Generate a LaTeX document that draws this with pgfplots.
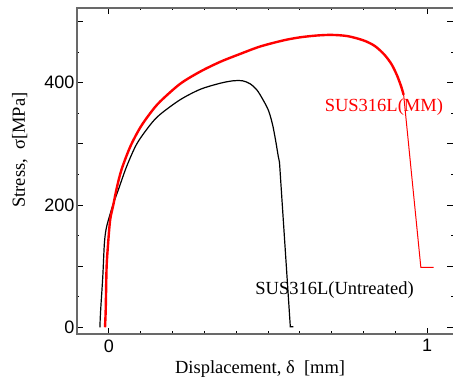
\documentclass[border=0pt]{standalone}
\usepackage{fontspec}
\setmainfont{Liberation Serif}
\setsansfont{Liberation Sans}
\usepackage{pgfplots}
\pgfplotsset{compat=1.18}
\definecolor{spine}{RGB}{105,105,105}
\begin{document}
\begin{tikzpicture}
\begin{axis}[
  scale only axis, width=376pt, height=326pt,
  xmin=-0.1, xmax=1.081, ymin=-11, ymax=522,
  axis line style={draw=none},
  xtick={0,1},
  minor xtick={0.1,0.2,0.3,0.4,0.5,0.6,0.7,0.8,0.9},
  ytick={0,100,200,300,400,500},
  yticklabels={0,,200,,400,},
  minor ytick={50,150,250,350,450},
  tick align=inside,
  major tick length=6pt, minor tick length=2.5pt,
  every tick/.style={black, line width=0.8pt},
  /pgf/number format/assume math mode=true,
  ticklabel style={font=\sffamily\fontsize{18}{20}\selectfont},
  xticklabel style={yshift=-2pt},
  yticklabel style={xshift=1pt},
  xlabel={Displacement,\ δ\ \ [mm]},
  ylabel={Stress,\ \ σ[MPa]},
  label style={font=\fontsize{18.5}{20}\selectfont},
  xlabel style={at={(axis description cs:0.487,-0.1227)}, anchor=base, inner sep=0pt},
  ylabel style={at={(axis description cs:-0.152,0.564)}, anchor=center, inner sep=0pt},
  clip=false,
]
\draw[spine, line width=1.5pt] (rel axis cs:1,0) -- (rel axis cs:0,0) -- (rel axis cs:0,1) -- (rel axis cs:1,1);
\coordinate (bl) at (rel axis cs:0,0);
% Untreated: smooth hardening part
\addplot[black, line width=1.2pt, smooth, tension=0.5] coordinates {
(-0.028,0) (-0.027,15) (-0.025,34) (-0.019,83) (-0.014,137) (-0.008,162)
(0.004,185) (0.014,202) (0.030,225) (0.056,263) (0.088,300) (0.13,331) (0.161,348) (0.224,372)
(0.287,389) (0.35,399) (0.391,403) (0.420,403) (0.444,398) (0.465,388) (0.482,374)
(0.501,355) (0.514,332) (0.524,305) (0.532,280) (0.536,270)
};
\addplot[black, line width=1.2pt] coordinates {
(0.536,270) (0.57,1) (0.58,1)
};
% MM
\addplot[red, line width=2.4pt, smooth, tension=0.5] coordinates {
(-0.012,0) (-0.010,25) (-0.009,50) (-0.007,99) (-0.003,132) (0.004,175) (0.014,200)
(0.025,228) (0.04,258) (0.067,295) (0.098,326) (0.13,350) (0.161,369)
(0.224,398) (0.287,418) (0.35,434) (0.413,447) (0.475,459) (0.548,469) (0.60,474) (0.653,477)
(0.70,478) (0.75,476) (0.8,469) (0.835,460) (0.865,446) (0.888,430) (0.905,412) (0.918,394) (0.926,380)
};
\addplot[red, line width=1pt] coordinates {
(0.926,380) (0.98,98) (1.02,98)
};
\node[red, font=\fontsize{18.5}{20}\selectfont] at (axis cs:0.864,360) {SUS316L(MM)};
\node[black, font=\fontsize{18.5}{20}\selectfont] at (axis cs:0.709,61) {SUS316L(Untreated)};
\end{axis}
\pgfresetboundingbox
\path (bl) ++(-77pt,-51pt) rectangle ++(453pt,385pt);
\end{tikzpicture}
\end{document}
